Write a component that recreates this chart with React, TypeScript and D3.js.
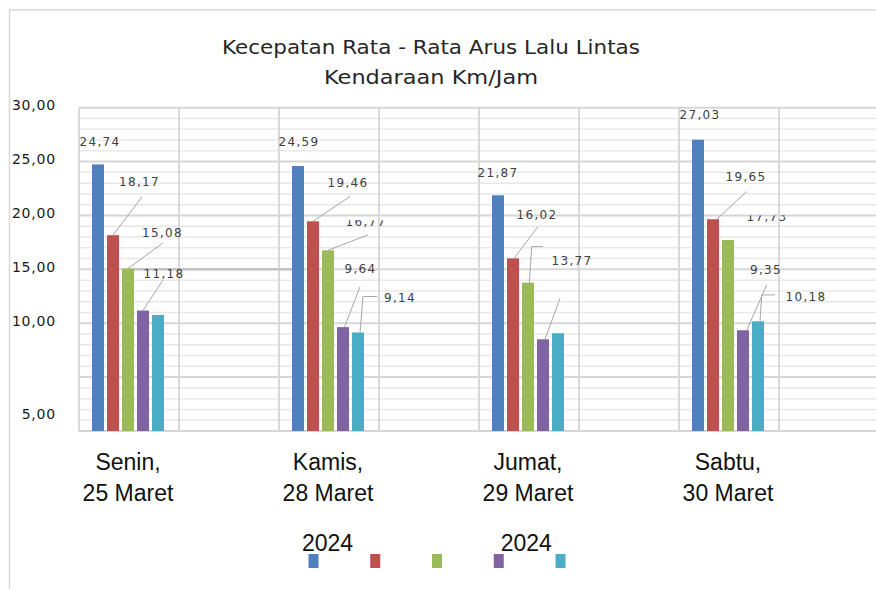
import React from "react";
import * as d3 from "d3";

// ---------- data ----------
const categoryLine1 = ["Senin,", "Kamis,", "Jumat,", "Sabtu,"];
const categoryLine2 = ["25 Maret", "28 Maret", "29 Maret", "30 Maret"];
const categories = categoryLine1.map((c, i) => c + " " + categoryLine2[i]);
const seriesKeys = ["s1", "s2", "s3", "s4", "s5"];
const seriesColors = ["#4f81bd", "#c0504d", "#9bbb59", "#8064a2", "#4bacc6"];
const series1 = [24.74, 24.59, 21.87, 27.03];
const series2 = [18.17, 19.46, 16.02, 19.65];
const series3 = [15.08, 16.77, 13.77, 17.73];
const series4 = [11.18, 9.64, 8.51, 9.35];
const series5 = [10.77, 9.14, 9.07, 10.18];
const seriesValues = [series1, series2, series3, series4, series5];
const yTickValues = [30, 25, 20, 15, 10, 1.35];
const yTickLabels = ["30,00", "25,00", "20,00", "15,00", "10,00", "5,00"];
const titleLines = ["Kecepatan Rata - Rata Arus Lalu Lintas", "Kendaraan Km/Jam"];
const titleWidths = [418, 214];
const legendTexts = ["2024", "2024"];

// ---------- label layout (offsets relative to bar top centre) ----------
type LabelSpec = { show: boolean; dx?: number; dy?: number; leader?: number[][]; clip?: boolean };
const labelLayout: Record<string, LabelSpec> = {
  "0-0": { show: true, dx: 2, dy: -22.6 },
  "0-1": { show: true, dx: 26.5, dy: -53.7, leader: [[0, 0], [29, -38.4]] },
  "0-2": { show: true, dx: 34.5, dy: -35.9, leader: [[0, 0], [35, -25.6]] },
  "0-3": { show: true, dx: 21, dy: -36.6, leader: [[0, 0], [20, -30.6]] },
  "1-0": { show: true, dx: 1, dy: -24.5 },
  "1-1": { show: true, dx: 35, dy: -38.5, leader: [[0, 0], [37, -24.8]] },
  "1-2": { show: true, dx: 38, dy: -29, leader: [[0, 0], [40, -15.4]], clip: true },
  "1-3": { show: true, dx: 17.5, dy: -58.2, leader: [[1.5, 0], [17, -40.5]] },
  "1-4": { show: true, dx: 42, dy: -34.6, leader: [[2, 0], [5, -36], [19, -36]] },
  "2-0": { show: true, dx: 0, dy: -22.2 },
  "2-1": { show: true, dx: 24, dy: -43.5, leader: [[1, 0], [25, -31.8]] },
  "2-2": { show: true, dx: 44, dy: -21.7, leader: [[1.3, 0], [3.7, -36], [15, -36]] },
  "2-3": { show: false, leader: [[2, 0], [17, -41]] },
  "3-0": { show: true, dx: 2, dy: -25 },
  "3-1": { show: true, dx: 33, dy: -42.7, leader: [[3.7, 0], [33.7, -27.7]] },
  "3-2": { show: true, dx: 39, dy: -23.4, clip: true },
  "3-3": { show: true, dx: 23, dy: -61, leader: [[3.7, 0], [23.7, -45.3]] },
  "3-4": { show: true, dx: 48, dy: -24.4, leader: [[2, 0], [3.7, -26.4], [17, -26.4]] },
};

const W = 876;
const H = 589;
const plot = { left: 79, right: 879, top: 107.7, bottom: 431 };

const fmt = (v: number) => d3.format(".2f")(v).replace(".", ",");

export default function App() {
  const x0 = d3.scaleBand<string>().domain(categories).range([plot.left, plot.right]);
  const x1 = d3.scaleBand<string>().domain(seriesKeys).range([13, 85]).paddingInner(0.2);
  const y = d3.scaleLinear().domain([0, 30]).range([plot.bottom, plot.top]);
  const bw = x1.bandwidth();
  const step = x0.step();

  const minorTicks = d3.range(1, 30).filter((v) => v % 5 !== 0);
  const majorTicks = d3.range(0, 31, 5);
  const vLines = d3.range(0, categories.length * 2 + 1).map((i) => plot.left + (i * step) / 2);

  const legendX = d3.scaleLinear().domain([0, 4]).range([313.5, 560.5]);

  const labelFont = "'DejaVu Sans', sans-serif";

  const bars: React.ReactNode[] = [];
  const labels: React.ReactNode[] = [];
  const clips: React.ReactNode[] = [];
  categories.forEach((cat, ci) => {
    seriesKeys.forEach((sk, si) => {
      const v = seriesValues[si][ci];
      const bx = (x0(cat) as number) + (x1(sk) as number);
      const by = y(v);
      bars.push(
        <rect key={`b-${ci}-${si}`} x={bx} y={by} width={bw} height={plot.bottom - by} fill={seriesColors[si]} />
      );
      const spec = labelLayout[`${ci}-${si}`];
      if (!spec) return;
      const cx = bx + bw / 2;
      if (spec.leader) {
        const line = d3.line()(spec.leader.map((p) => [cx + p[0], by + p[1]] as [number, number]));
        labels.push(<path key={`l-${ci}-${si}`} d={line || ""} fill="none" stroke="#a6a6a6" strokeWidth={1} />);
      }
      if (spec.show) {
        const tx = cx + (spec.dx || 0);
        const ty = by + (spec.dy || 0);
        const clipId = `clip-${ci}-${si}`;
        if (spec.clip) {
          clips.push(
            <clipPath id={clipId} key={clipId}>
              <rect x={tx - 40} y={ty - 1} width={80} height={20} />
            </clipPath>
          );
        }
        labels.push(
          <text
            key={`t-${ci}-${si}`}
            x={tx}
            y={ty}
            dy="0.36em"
            textAnchor="middle"
            fontFamily={labelFont}
            fontSize={12}
            letterSpacing={1.3}
            fill="#404040"
            clipPath={spec.clip ? `url(#${clipId})` : undefined}
          >
            {fmt(v)}
          </text>
        );
      }
    });
  });

  // stray connector line at the 15 level between first two groups
  const strayX1 = (x0(categories[0]) as number) + (x1("s3") as number) + bw;
  const strayX2 = (x0(categories[1]) as number) + (x1("s1") as number);

  return (
    <svg width={W} height={H} style={{ position: "absolute", left: 0, top: 0, background: "#fff" }}>
      <defs>{clips}</defs>
      <rect x={0} y={0} width={W} height={H} fill="#fff" />
      {/* chart area border */}
      <path d={`M${W + 2},10 H9.5 V${H + 2}`} fill="none" stroke="#d9d9d9" strokeWidth={1.5} />

      {/* title */}
      {titleLines.map((t, i) => (
        <text
          key={t}
          x={431}
          y={54 + i * 30}
          textAnchor="middle"
          fontFamily="'DejaVu Sans', sans-serif"
          fontSize={19}
          textLength={titleWidths[i]}
          lengthAdjust="spacingAndGlyphs"
          fill="#262626"
        >
          {t}
        </text>
      ))}

      {/* minor gridlines */}
      {minorTicks.map((t) => (
        <line key={`mn-${t}`} x1={plot.left} x2={plot.right} y1={y(t)} y2={y(t)} stroke="#e8e8e8" strokeWidth={1.5} />
      ))}
      {/* major gridlines */}
      {majorTicks.map((t) => (
        <line key={`mj-${t}`} x1={plot.left} x2={plot.right} y1={y(t)} y2={y(t)} stroke="#d6d6d6" strokeWidth={2} />
      ))}
      {/* vertical gridlines */}
      {vLines.map((vx, i) => (
        <line key={`v-${i}`} x1={vx} x2={vx} y1={plot.top} y2={plot.bottom} stroke="#d9d9d9" strokeWidth={2} />
      ))}

      <line x1={strayX1} x2={strayX2} y1={y(15)} y2={y(15)} stroke="#c4c4c4" strokeWidth={2.5} />

      {/* y tick labels */}
      {yTickValues.map((t, i) => (
        <text
          key={`yt-${i}`}
          x={56}
          y={y(t) + 2.5}
          textAnchor="end"
          fontFamily="'DejaVu Sans', sans-serif"
          fontSize={14}
          letterSpacing={0.8}
          fill="#1a1a1a"
        >
          {yTickLabels[i]}
        </text>
      ))}

      {bars}
      {labels}

      {/* category labels */}
      {categories.map((c, i) => {
        const cx = (x0(c) as number) + 49;
        return (
          <g key={`c-${i}`}>
            <text x={cx} y={470} textAnchor="middle" fontFamily="'Liberation Sans', Arial, sans-serif" fontSize={23} fill="#111">
              {categoryLine1[i]}
            </text>
            <text x={cx} y={501} textAnchor="middle" fontFamily="'Liberation Sans', Arial, sans-serif" fontSize={23} fill="#111">
              {categoryLine2[i]}
            </text>
          </g>
        );
      })}

      {/* legend */}
      {seriesKeys.map((sk, i) => (
        <rect key={`lg-${sk}`} x={legendX(i) - 5} y={554} width={10} height={14} fill={seriesColors[i]} />
      ))}
      <text x={legendX(0) + 14} y={551} textAnchor="middle" fontFamily="'Liberation Sans', Arial, sans-serif" fontSize={23} fill="#111">
        {legendTexts[0]}
      </text>
      <text x={legendX(3) + 27.5} y={551} textAnchor="middle" fontFamily="'Liberation Sans', Arial, sans-serif" fontSize={23} fill="#111">
        {legendTexts[1]}
      </text>
    </svg>
  );
}
